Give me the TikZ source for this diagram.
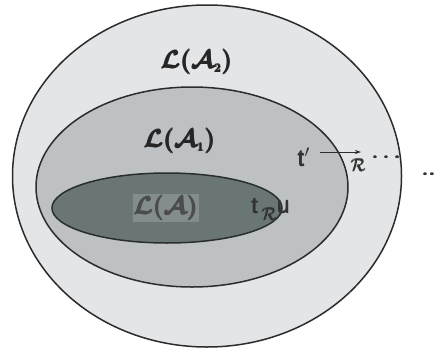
\documentclass[tikz,border=0pt]{standalone}
\usepackage{amsmath}
\usepackage{bm}
\usepackage{fontspec}
\setmainfont{Liberation Sans}
\usetikzlibrary{shapes.geometric,arrows.meta}
\definecolor{outerc}{HTML}{E3E5E7}
\definecolor{midc}{HTML}{BDC1C3}
\definecolor{innerc}{HTML}{6A7676}
\definecolor{patchc}{HTML}{848D8D}
\definecolor{linec}{HTML}{2A2C2E}
\tikzset{
  setell/.style={ellipse,draw=linec,line width=1.5pt,inner sep=0pt},
  lab/.style={inner sep=0pt,font=\fontsize{23}{26}\selectfont,text=black!85},
  sm/.style={inner sep=0pt,font=\fontsize{18}{20}\selectfont,text=black!80},
  big/.style={inner sep=0pt,font=\fontsize{23}{25}\selectfont,text=black!80},
}
\begin{document}
\begin{tikzpicture}[x=1pt,y=-1pt]
\useasboundingbox (0,0) rectangle (441,351);
\fill[white] (0,0) rectangle (441,351);
\node[setell,fill=outerc,minimum width=389pt,minimum height=342pt] (outer) at (207,176) {};
\node[setell,fill=midc,minimum width=312pt,minimum height=200pt] (mid) at (192,187) {};
\node[setell,fill=innerc,minimum width=230pt,minimum height=70pt] (inner) at (167,208) {};
\node[lab] (L2) at (197,62) {$\pmb{\bm{\mathcal{L}(\mathcal{A}_{\scriptscriptstyle 2})}}$};
\node[lab] (L1) at (180,141) {$\pmb{\bm{\mathcal{L}(\mathcal{A}_{\scriptscriptstyle 1})}}$};
\node[lab,fill=patchc,inner sep=1pt,text=black!70] (L0) at (166,208) {$\pmb{\bm{\mathcal{L}(\mathcal{A})}}$};
\node[big] (tp) at (304,157) {\pmb{t}$'$};
\coordinate (arS) at (320,152);
\coordinate (arE) at (361,152);
\draw[linec,line width=0.9pt,-{Stealth[length=6pt,width=4pt]}] (arS) -- (arE);
\node[sm,anchor=west] (R1) at (351,165) {$\pmb{\mathcal{R}}$};
\node[big,anchor=west] (d1) at (372,158) {$\pmb{\cdots}$};
\node[big] (t) at (255,206) {\pmb{t}};
\node[sm,anchor=west] (R2) at (262,214) {$\pmb{\mathcal{R}}$};
\node[big,anchor=west] (u) at (277,207) {\pmb{u}};
\node[big,anchor=west] (d2) at (422,175) {$\pmb{\cdot\cdot}$};
\end{tikzpicture}
\end{document}
